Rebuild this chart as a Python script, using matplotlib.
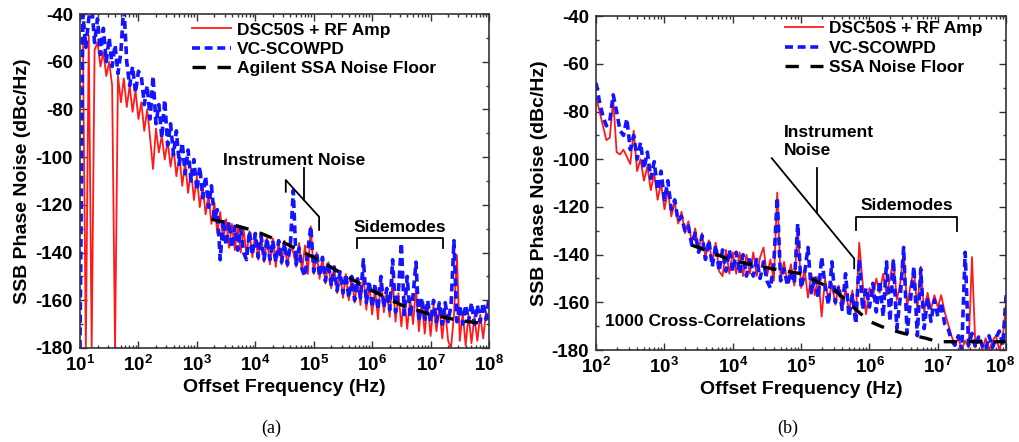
"""Phase noise comparison: DSC50S + RF Amp vs VC-SCOWPD"""
import numpy as np
import matplotlib
matplotlib.use('Agg')
import matplotlib.pyplot as plt
import matplotlib.transforms as mtransforms
from matplotlib.ticker import NullFormatter, MultipleLocator, LogLocator

plt.rcParams['font.family'] = ['Liberation Sans', 'DejaVu Sans']
plt.rcParams['font.weight'] = 'bold'
plt.rcParams['axes.unicode_minus'] = False
plt.rcParams['mathtext.fontset'] = 'custom'
plt.rcParams['mathtext.rm'] = 'Liberation Sans:bold'
plt.rcParams['mathtext.bf'] = 'Liberation Sans:bold'
plt.rcParams['mathtext.it'] = 'Liberation Sans:bold'

# ---- panel (a): 10 Hz .. 100 MHz, sampled every 0.05 decade ----
f_a = np.logspace(1, 8, 141)
dsc_a = [-52, -50, -180, -49, -180, -55, -52, -62, -56, -66,
         -60, -70, -180, -66, -77, -67, -79, -70, -81, -72,
         -84, -77, -89, -80, -92, -105, -88, -98, -91, -101,
         -93, -104, -96, -108, -99, -112, -102, -115, -105, -118,
         -108, -121, -112, -124, -116, -128, -119, -132, -123, -135,
         -126, -138, -128, -139, -129, -140, -130, -141, -131, -142,
         -132, -143, -133, -144, -134, -145, -134, -146, -135, -145,
         -135, -146, -136, -140, -146, -136, -148, -137, -149, -129,
         -149, -140, -151, -142, -153, -144, -155, -146, -157, -148,
         -159, -149, -160, -150, -161, -151, -162, -149, -164, -153,
         -166, -155, -168, -150, -165, -156, -167, -151, -169, -157,
         -171, -158, -172, -159, -170, -155, -173, -160, -174, -161,
         -175, -162, -173, -163, -176, -164, -177, -180, -166, -141,
         -177, -165, -179, -166, -178, -167, -177, -166, -176, -165,
         -168]
scow_a = [-180, -40, -54, -42, -36, -52, -42, -57, -46, -60,
          -50, -62, -53, -65, -56, -36, -60, -70, -62, -73,
          -64, -66, -78, -70, -84, -66, -86, -78, -92, -76,
          -95, -86, -99, -89, -103, -94, -107, -97, -110, -101,
          -114, -104, -117, -108, -121, -112, -126, -122, -143, -126,
          -137, -127, -138, -129, -139, -130, -140, -143, -131, -141,
          -132, -142, -133, -143, -134, -143, -135, -144, -135, -144,
          -136, -145, -137, -114, -145, -138, -147, -150, -139, -129,
          -148, -140, -150, -142, -152, -144, -154, -146, -156, -148,
          -157, -149, -159, -150, -160, -151, -159, -143, -161, -152,
          -163, -153, -164, -150, -163, -155, -164, -143, -165, -156,
          -136, -166, -150, -167, -158, -144, -169, -159, -168, -160,
          -169, -160, -169, -161, -170, -161, -169, -162, -135, -169,
          -162, -170, -162, -169, -161, -170, -162, -169, -161, -168,
          -159]
floor_fa = [10**3.25, 10**3.5, 1e4, 10**4.5, 1e5, 10**5.5, 1e6, 10**6.5, 1e7, 10**7.5, 1e8]
floor_a = [-126, -127.5, -131, -136, -142, -149, -156, -162, -166, -168.5, -170]

# ---- panel (b): 100 Hz .. 100 MHz, 1000 cross-correlations ----
f_b = np.logspace(2, 8, 121)
dsc_b = [-74, -80, -86, -92, -91, -75, -97, -98, -96, -99,
         -102, -88, -105, -100, -109, -103, -113, -106, -117, -110,
         -121, -113, -124, -118, -127, -122, -131, -126, -135, -129,
         -138, -131, -141, -134, -144, -135, -147, -149, -138, -148,
         -139, -148, -139, -149, -140, -148, -139, -149, -141, -137,
         -149, -142, -151, -114, -150, -143, -152, -144, -153, -128,
         -154, -146, -158, -148, -157, -149, -166, -150, -160, -152,
         -161, -153, -163, -154, -164, -155, -166, -135, -152, -165,
         -154, -158, -150, -156, -148, -157, -150, -142, -159, -152,
         -138, -162, -153, -146, -163, -145, -164, -156, -163, -157,
         -162, -157, -164, -169, -174, -178, -175, -180, -176, -179,
         -141, -179, -174, -180, -175, -180, -176, -174, -180, -175,
         -160]
scow_b = [-68, -76, -82, -86, -84, -73, -80, -88, -90, -83,
          -96, -90, -100, -93, -104, -97, -108, -101, -113, -105,
          -117, -109, -121, -117, -126, -124, -130, -128, -136, -131,
          -139, -132, -142, -134, -145, -136, -147, -138, -147, -138,
          -147, -139, -148, -140, -149, -141, -149, -142, -150, -143,
          -151, -154, -144, -116, -151, -146, -153, -147, -152, -127,
          -154, -148, -137, -156, -149, -158, -141, -153, -161, -143,
          -160, -153, -163, -148, -166, -157, -169, -142, -163, -154,
          -162, -152, -164, -151, -166, -143, -168, -142, -171, -158,
          -137, -173, -159, -145, -174, -146, -171, -158, -168, -159,
          -166, -160, -169, -171, -176, -178, -174, -180, -139, -178,
          -173, -179, -174, -178, -180, -174, -179, -175, -172, -178,
          -157]
floor_fb = [10**3.4, 1e4, 10**4.5, 1e5, 10**5.5, 10**5.8, 1e6, 10**6.25, 10**6.5, 10**6.82, 1e7, 1e8]
floor_b = [-136, -142.5, -145.5, -148, -155, -163, -168, -171, -173, -175, -176.5, -176.5]

RED = '#ff1a1a'
BLUE = '#1414ff'


def style_axes(ax, xmin_exp):
    ax.set_xscale('log')
    ax.set_xlim(10**xmin_exp, 1e8)
    ax.set_ylim(-180, -40)
    ticks = [10**k for k in range(xmin_exp, 9)]
    ax.set_xticks(ticks)
    ax.set_xticklabels([r'$10^{%d}$' % k for k in range(xmin_exp, 9)])
    ax.xaxis.set_minor_locator(LogLocator(base=10, subs=np.arange(2, 10), numticks=20))
    ax.xaxis.set_minor_formatter(NullFormatter())
    ax.yaxis.set_major_locator(MultipleLocator(20))
    ax.yaxis.set_minor_locator(MultipleLocator(10))
    ax.tick_params(which='both', direction='in', top=True, right=True,
                   labelsize=13.5, width=1.0, color='#333333')
    ax.tick_params(which='major', length=5, pad=5)
    ax.tick_params(which='minor', length=2.5)
    for lab in ax.get_yticklabels():
        lab.set_fontweight('bold')
    for sp in ax.spines.values():
        sp.set_linewidth(1.2)
        sp.set_color('#333333')
    ax.set_xlabel('Offset Frequency (Hz)', fontsize=14, fontweight='bold', labelpad=3)
    ax.set_ylabel('SSB Phase Noise (dBc/Hz)', fontsize=14, fontweight='bold', labelpad=3)


fig = plt.figure(figsize=(10.19, 4.42), dpi=100)

# ---------------- (a) ----------------
ax1 = fig.add_axes([0.0785, 0.2127, 0.4014, 0.7556])
ax1.plot(f_a, dsc_a, color=RED, linewidth=1.3, label='DSC50S + RF Amp')
ax1.plot(f_a, scow_a, color=BLUE, linewidth=2.6, dashes=(2.2, 1.3), label='VC-SCOWPD')
ax1.plot(floor_fa, floor_a, color='black', linewidth=2.4, dashes=(4, 3.5),
         label='Agilent SSA Noise Floor')
style_axes(ax1, 1)
ax1.legend(loc='upper left', bbox_to_anchor=(0.275, 0.975), frameon=False,
           prop={'size': 12.5, 'weight': 'bold'}, handlelength=2.2,
           handletextpad=0.35, labelspacing=0.25, borderpad=0, borderaxespad=0)

ax1.text(10**4.66, -101.5, 'Instrument Noise', fontsize=12.5, fontweight='bold',
         ha='center', va='center')
ax1.plot([10**4.522, 10**4.522, 10**5.092, 10**5.092], [-114.5, -109.6, -125.0, -130.5],
         color='black', linewidth=1.3)
ax1.plot([10**4.841, 10**4.841], [-104.5, -118.0], color='black', linewidth=1.3)
ax1.text(10**6.48, -129.5, 'Sidemodes', fontsize=12.5, fontweight='bold',
         ha='center', va='center')
ax1.plot([10**5.748, 10**5.748, 10**7.221, 10**7.221], [-138.2, -134.0, -134.0, -138.2],
         color='black', linewidth=1.3)

# ---------------- (b) ----------------
ax2 = fig.add_axes([0.585, 0.208, 0.4024, 0.7556])
ax2.plot(f_b, dsc_b, color=RED, linewidth=1.3, label='DSC50S + RF Amp')
ax2.plot(f_b, scow_b, color=BLUE, linewidth=2.6, dashes=(2.2, 1.3), label='VC-SCOWPD')
ax2.plot(floor_fb, floor_b, color='black', linewidth=2.4, dashes=(4, 3.5),
         label='SSA Noise Floor')
style_axes(ax2, 2)
ax2.legend(loc='upper left', bbox_to_anchor=(0.46, 0.985), frameon=False,
           prop={'size': 12.5, 'weight': 'bold'}, handlelength=2.2,
           handletextpad=0.35, labelspacing=0.25, borderpad=0, borderaxespad=0)

# last x tick label sits right at the figure edge; nudge it inwards a little
last_lab = ax2.get_xticklabels()[-1]
last_lab.set_transform(last_lab.get_transform() +
                       mtransforms.ScaledTranslation(-6 / 100, 0, fig.dpi_scale_trans))

ax2.text(10**4.75, -92.5, 'Instrument\nNoise', fontsize=12.5, fontweight='bold',
         ha='left', va='center', linespacing=1.2)
ax2.plot([10**4.571, 10**5.776, 10**5.776], [-99.6, -141.6, -145.7],
         color='black', linewidth=1.3)
ax2.plot([10**5.239, 10**5.239], [-103.8, -122.7], color='black', linewidth=1.3)
ax2.text(10**6.54, -119.5, 'Sidemodes', fontsize=12.5, fontweight='bold',
         ha='center', va='center')
ax2.plot([10**5.80, 10**5.80, 10**7.278, 10**7.278], [-129.7, -124.1, -124.1, -130.0],
         color='black', linewidth=1.3)
ax2.text(10**2.13, -168.1, '1000 Cross-Correlations', fontsize=12.5, fontweight='bold',
         ha='left', va='center')

fig.text(0.266, 0.032, '(a)', fontsize=13, family='Liberation Serif',
         fontweight='normal', ha='center', va='center')
fig.text(0.773, 0.032, '(b)', fontsize=13, family='Liberation Serif',
         fontweight='normal', ha='center', va='center')

plt.savefig('out.png', dpi=100)
